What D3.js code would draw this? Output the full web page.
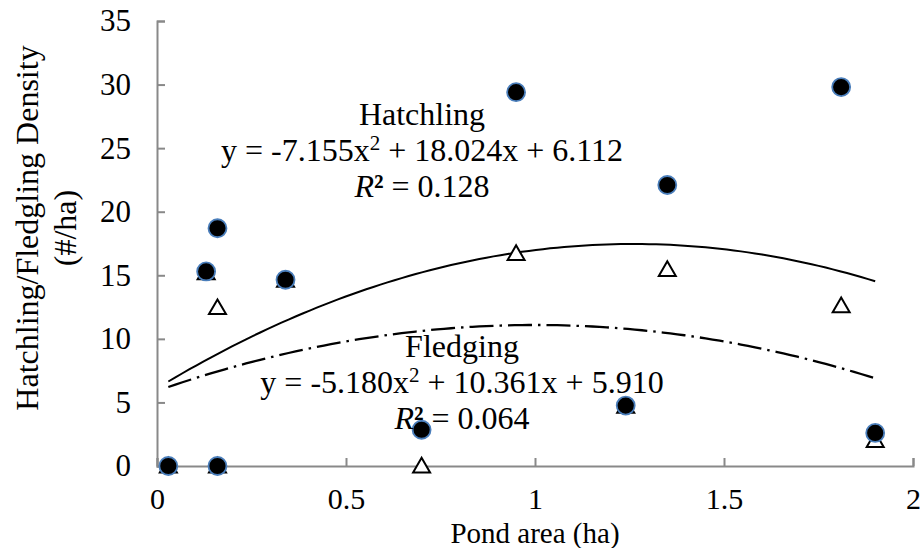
<!DOCTYPE html>
<html>
<head>
<meta charset="utf-8">
<script src="https://cdn.jsdelivr.net/npm/d3@7"></script>
<style>
  html, body { margin: 0; padding: 0; background: #fff; }
  svg { display: block; }
</style>
</head>
<body>
<div id="chart"></div>
<script>
// Pond area (ha) for each surveyed pond
const pondArea = [0.03, 0.16, 0.16, 0.13, 0.34, 0.95, 1.81, 1.35, 0.70, 1.24, 1.90];
// Hatchling density (#/ha)
const hatchling = [0, 0, 18.7, 15.3, 14.65, 29.4, 29.8, 22.1, 2.85, 4.75, 2.6];
// Fledgling density (#/ha)
const fledgling = [0, 0, 12.45, 15.2, 14.6, 16.7, 12.6, 15.45, 0, 4.7, 2.0];

// Quadratic trend coefficients [a, b, c] for y = a x^2 + b x + c
const hatchFit = [-7.155, 18.024, 6.112];
const fledgeFit = [-5.180, 10.361, 5.910];

const xTicks = [0, 0.5, 1, 1.5, 2];
const yTicks = [0, 5, 10, 15, 20, 25, 30, 35];

const FONT = "'Liberation Serif', 'Times New Roman', 'DejaVu Serif', serif";

const W = 921, H = 548;
const svg = d3.select("#chart").append("svg").attr("width", W).attr("height", H)
  .style("font-family", FONT);

const x = d3.scaleLinear().domain([0, 2]).range([157, 913]);
const y = d3.scaleLinear().domain([0, 35]).range([466, 21]);

const axisColor = "#898989";

// Axes with inward ticks
const gx = svg.append("g").attr("transform", `translate(0,${y(0)})`)
  .call(d3.axisBottom(x).tickValues(xTicks).tickSizeInner(-8).tickSizeOuter(-8)
    .tickPadding(22).tickFormat(d3.format("")));
const gy = svg.append("g").attr("transform", `translate(${x(0)},0)`)
  .call(d3.axisLeft(y).tickValues(yTicks).tickSizeInner(-8).tickSizeOuter(-8)
    .tickPadding(35).tickFormat(d3.format("")));

[gx, gy].forEach(g => {
  g.attr("font-family", null).attr("font-size", null);
  g.selectAll("path.domain").attr("stroke", axisColor).attr("stroke-width", 2);
  g.selectAll(".tick line").attr("stroke", axisColor).attr("stroke-width", 2);
  g.selectAll(".tick text")
    .style("font-family", FONT).style("font-size", "31px").attr("fill", "#000");
});
gx.selectAll(".tick text").style("font-size", "30px");
gy.selectAll(".tick text").attr("x", -26);

// Axis titles
svg.append("text").attr("x", 535).attr("y", 543).attr("text-anchor", "middle")
  .style("font-size", "29px").text("Pond area (ha)");
const yt = svg.append("text").attr("transform", "translate(38,228) rotate(-90)")
  .attr("text-anchor", "middle").style("font-size", "32px");
yt.append("tspan").attr("x", 0).attr("y", 0).text("Hatchling/Fledgling Density");
yt.append("tspan").attr("x", 0).attr("y", 38).text("(#/ha)");

// Trend curves over the observed range
const xMin = d3.min(pondArea), xMax = d3.max(pondArea);
const samples = d3.range(0, 101).map(i => xMin + (xMax - xMin) * i / 100);
const quad = c => v => c[0] * v * v + c[1] * v + c[2];
const line = f => d3.line().x(v => x(v)).y(v => y(f(v)))(samples);

svg.append("path").attr("d", line(quad(hatchFit)))
  .attr("fill", "none").attr("stroke", "#000").attr("stroke-width", 2);
svg.append("path").attr("d", line(quad(fledgeFit)))
  .attr("fill", "none").attr("stroke", "#000").attr("stroke-width", 2.3)
  .attr("stroke-dasharray", "24,6,2.5,6");

// Fledgling markers (open triangles), drawn beneath the circles
const tri = d3.symbol().type(d3.symbolTriangle).size(125);
svg.append("g").selectAll("path").data(pondArea).join("path")
  .attr("d", tri)
  .attr("transform", (d, i) => `translate(${x(d)},${y(fledgling[i]) + 1.5})`)
  .attr("fill", "#fff").attr("stroke", "#000").attr("stroke-width", 2);

// Hatchling markers (filled circles)
svg.append("g").selectAll("circle").data(pondArea).join("circle")
  .attr("cx", d => x(d)).attr("cy", (d, i) => y(hatchling[i]))
  .attr("r", 9).attr("fill", "#000").attr("stroke", "#4a7ebb").attr("stroke-width", 1.8);

// Equation labels
function eqLabel(cx, y0, name, coeffs, r2) {
  const g = svg.append("g").style("font-size", "32px").attr("fill", "#000");
  g.append("text").attr("x", cx).attr("y", y0).attr("text-anchor", "middle").text(name);
  const t = g.append("text").attr("x", cx).attr("y", y0 + 35.5).attr("text-anchor", "middle");
  t.append("tspan").text(`y = ${coeffs[0].toFixed(3)}x`);
  t.append("tspan").style("font-size", "21px").attr("dy", -11).text("2");
  t.append("tspan").attr("dy", 11).text(` + ${coeffs[1].toFixed(3)}x + ${coeffs[2].toFixed(3)}`);
  const r = g.append("text").attr("x", cx).attr("y", y0 + 72).attr("text-anchor", "middle");
  r.append("tspan").style("font-style", "italic").text("R");
  r.append("tspan").style("font-weight", "bold").text("²");
  r.append("tspan").text(` = ${r2}`);
}
eqLabel(422, 125, "Hatchling", hatchFit, "0.128");
eqLabel(462, 357, "Fledging", fledgeFit, "0.064");
</script>
</body>
</html>
